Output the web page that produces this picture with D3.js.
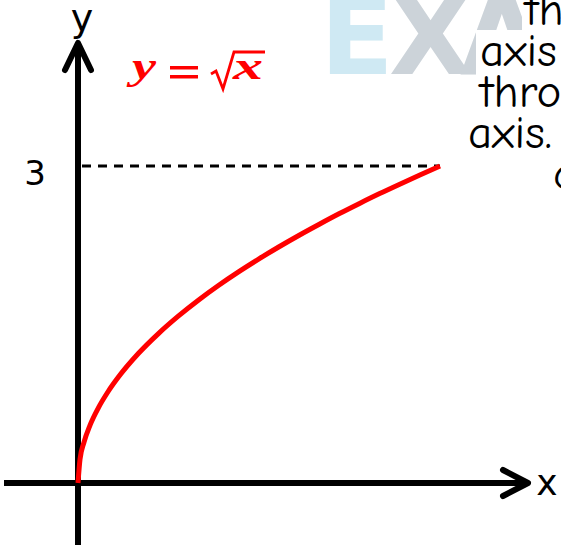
<!DOCTYPE html>
<html><head><meta charset="utf-8">
<script src="https://cdn.jsdelivr.net/npm/d3@7"></script>
<style>html,body{margin:0;padding:0;background:#fff;overflow:hidden}</style>
</head><body>
<svg id="c" width="561" height="545"></svg>
<script>
// Data: points on the curve y = sqrt(x)
const xValues = [0, 0.05, 0.15, 0.3, 0.5, 0.75, 1, 1.5, 2, 2.5, 3, 3.5, 4, 4.5, 5, 5.5, 6, 6.5, 7, 7.5, 8, 8.5, 9];
const yValues = [0, 0.224, 0.387, 0.548, 0.707, 0.866, 1, 1.225, 1.414, 1.581, 1.732, 1.871, 2, 2.121, 2.236, 2.345, 2.449, 2.550, 2.646, 2.739, 2.828, 2.915, 3];
const yTickLabels = ["3"];
const yTickValues = [3];
const sideText = ["th", "axis", "thro", "axis.", "c"];
const watermark = ["E", "X", "A"];

const svg = d3.select("#c");
const x = d3.scaleLinear().domain([0, 9]).range([78, 440]);
const y = d3.scaleLinear().domain([0, 3]).range([483, 166]);

// watermark
const wmX = [320, 389, 460];
const wmC = ["#cfe9f3", "#ccd3d9", "#ccd3d9"];
svg.append("g").selectAll("text").data(watermark).join("text")
  .attr("x", (d, i) => wmX[i]).attr("y", 74)
  .attr("font-family", "DejaVu Sans, sans-serif").attr("font-weight", "bold")
  .attr("font-size", 108).attr("fill", (d, i) => wmC[i]).text(d => d);

// side text with white boxes
const sideX = [525, 480, 480, 468, 553];
const boxX = [522, 476, 476, 464, 550];
const sg = svg.append("g");
sg.selectAll("rect").data(sideText).join("rect")
  .attr("x", (d, i) => boxX[i]).attr("y", (d, i) => 25 + i * 41 - 36)
  .attr("width", 100).attr("height", 44).attr("fill", "#fff");
sg.selectAll("text").data(sideText).join("text")
  .attr("x", (d, i) => sideX[i]).attr("y", (d, i) => 25 + i * 41)
  .attr("font-family", "Comic Sans MS, Comic Neue, DejaVu Sans, sans-serif")
  .attr("font-size", 47).attr("fill", "#000").text(d => d);

// dashed guide at y=3
svg.append("line")
  .attr("x1", x(0) + 4).attr("x2", x(9))
  .attr("y1", y(3)).attr("y2", y(3))
  .attr("stroke", "#000").attr("stroke-width", 3.2).attr("stroke-dasharray", "9,7");

// axes
const ax = svg.append("g").attr("stroke", "#000").attr("stroke-width", 6)
  .attr("fill", "none").attr("stroke-linecap", "round").attr("stroke-linejoin", "round");
ax.append("line").attr("x1", 4).attr("x2", 526).attr("y1", y(0)).attr("y2", y(0)).attr("stroke-linecap", "butt");
ax.append("path").attr("d", `M${503},${y(0) - 13} L${528},${y(0)} L${503},${y(0) + 13}`);
ax.append("line").attr("x1", x(0)).attr("x2", x(0)).attr("y1", 46).attr("y2", 548).attr("stroke-linecap", "butt");
ax.append("path").attr("d", `M${x(0) - 13},${70} L${x(0)},${43} L${x(0) + 13},${70}`);

// curve
const pts = xValues.map((v, i) => [v, yValues[i]]);
svg.append("path").datum(pts)
  .attr("d", d3.line().x(d => x(d[0])).y(d => y(d[1])).curve(d3.curveMonotoneX))
  .attr("fill", "none").attr("stroke", "#ff0000").attr("stroke-width", 5);

// tick label
svg.selectAll(".tl").data(yTickValues).join("text").attr("class", "tl")
  .attr("x", 35).attr("y", d => y(d) + 19).attr("text-anchor", "middle")
  .attr("font-family", "DejaVu Sans, sans-serif").attr("font-size", 34).text((d, i) => yTickLabels[i]);

// axis labels
svg.append("text").attr("x", 82).attr("y", 31).attr("text-anchor", "middle")
  .attr("font-family", "Comic Sans MS, DejaVu Sans, sans-serif").attr("font-size", 38).text("y");
svg.append("text").attr("x", 547).attr("y", 495).attr("text-anchor", "middle")
  .attr("font-family", "Comic Sans MS, DejaVu Sans, sans-serif").attr("font-size", 36).text("x");

// formula y = √x
const f = svg.append("g").attr("fill", "#ff0000");
f.append("text").attr("x", 132).attr("y", 79)
  .attr("font-family", "Liberation Serif, serif").attr("font-weight", "bold").attr("font-style", "italic")
  .attr("font-size", 37).attr("textLength", 24).attr("lengthAdjust", "spacingAndGlyphs").text("y");
f.append("rect").attr("x", 170).attr("y", 66).attr("width", 28).attr("height", 3.5);
f.append("rect").attr("x", 170).attr("y", 75).attr("width", 28).attr("height", 3.5);
f.append("path").attr("d", "M211,74 L216,71 L223,89 L234,52 L265,52")
  .attr("fill", "none").attr("stroke", "#ff0000").attr("stroke-width", 2.8).attr("stroke-linejoin", "miter");
f.append("text").attr("x", 233).attr("y", 79)
  .attr("font-family", "Liberation Serif, serif").attr("font-weight", "bold").attr("font-style", "italic")
  .attr("font-size", 37).attr("textLength", 30).attr("lengthAdjust", "spacingAndGlyphs").text("x");
</script>
</body></html>
